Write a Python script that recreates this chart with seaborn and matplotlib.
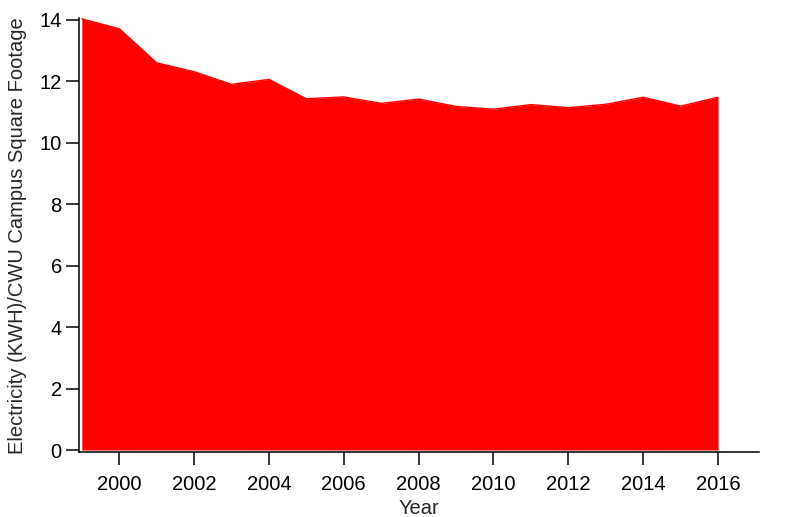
import numpy as np
import pandas as pd
import matplotlib
matplotlib.use("Agg")
import matplotlib.pyplot as plt
import seaborn as sns

years = [1999, 2000, 2001, 2002, 2003, 2004, 2005, 2006, 2007, 2008,
         2009, 2010, 2011, 2012, 2013, 2014, 2015, 2016]
kwh_per_sqft = [14.03, 13.71, 12.60, 12.31, 11.90, 12.06, 11.43, 11.49, 11.28, 11.42,
                11.18, 11.09, 11.24, 11.14, 11.25, 11.48, 11.19, 11.48]
x_ticks = [2000, 2002, 2004, 2006, 2008, 2010, 2012, 2014, 2016]
y_ticks = [0, 2, 4, 6, 8, 10, 12, 14]

df = pd.DataFrame({"Year": years, "kwh": kwh_per_sqft})

sns.set_style("ticks")
plt.rcParams["font.family"] = ["Liberation Sans", "DejaVu Sans"]

fig = plt.figure(figsize=(8, 5.17), dpi=100)
ax = fig.add_axes([0.099, 0.1257, 0.85, 0.839])

ax.fill_between(df["Year"], 0, df["kwh"], color="#ff0000", linewidth=0)
sns.lineplot(data=df, x="Year", y="kwh", ax=ax, color="#ff0000", linewidth=1)

ax.set_xlim(1998.93, 2017.1)
ax.set_ylim(-0.065, 14.05)
ax.set_xticks(x_ticks)
ax.set_yticks(y_ticks)
ax.tick_params(axis="both", direction="out", length=9.5, width=1.1,
               color="black", labelsize=14.5, labelcolor="black", pad=3)
ax.tick_params(axis="x", pad=7)

for side in ["top", "right"]:
    ax.spines[side].set_visible(False)
for side in ["left", "bottom"]:
    ax.spines[side].set_color("black")
    ax.spines[side].set_linewidth(1.1)

ax.set_xlabel("Year", fontsize=14.5, labelpad=4)
ax.set_ylabel("Electricity (KWH)/CWU Campus Square Footage", fontsize=14.5, labelpad=9)

fig.savefig("out.png", dpi=100)
